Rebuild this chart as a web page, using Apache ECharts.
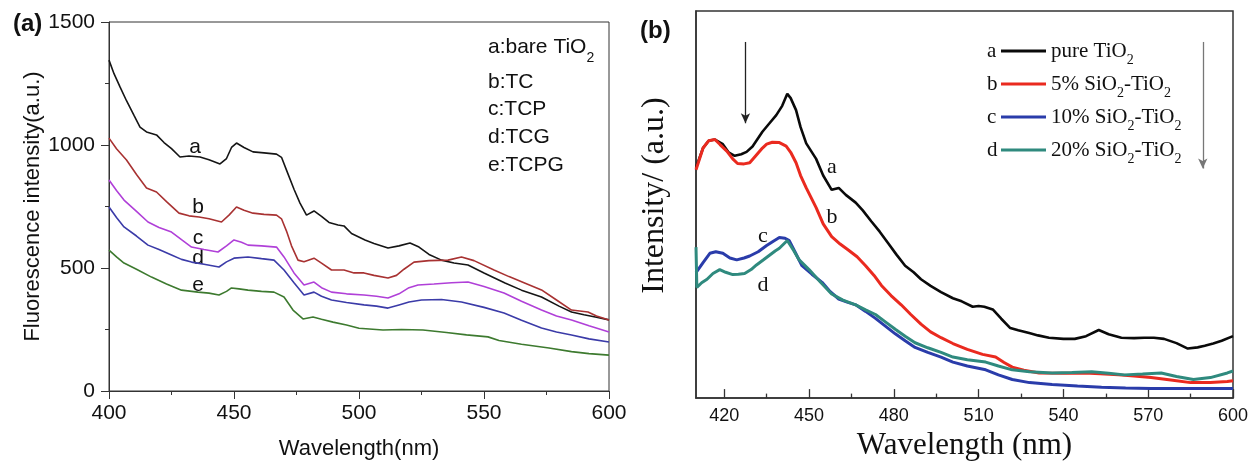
<!DOCTYPE html>
<html><head><meta charset="utf-8">
<script src="https://cdn.jsdelivr.net/npm/echarts@6/dist/echarts.min.js"></script>
<style>html,body{margin:0;padding:0;background:#fff}#c{width:1259px;height:466px}</style>
</head><body><div id="c"></div>
<script>
// ---------- Panel (a) data: [wavelength nm, fluorescence intensity a.u.] ----------
const aNames = ['a:bare TiO2', 'b:TC', 'c:TCP', 'd:TCG', 'e:TCPG'];
const aBare = [[400,1345],[402,1290],[404.4,1236],[407,1180],[410,1120],[412.4,1073],[415,1053],[419,1041],[422,1010],[425,985],[428.4,951],[432,955],[436.4,951],[440,940],[444.4,923],[447,945],[449,990],[451,1008],[454,990],[457.6,972],[462,968],[467,963],[469,950],[471,898],[474,820],[476.4,764],[479,715],[482,732],[485,710],[488,685],[491.6,675],[494,671],[497,640],[502.4,614],[506,600],[511.6,581],[516,590],[520.4,602],[524,585],[528,555],[533,532],[538,520],[543.6,512],[550,480],[558.4,439],[565,410],[573,382],[580,345],[585,321],[590,310],[595,300],[600,289]];
const aTC = [[400,1028],[403,985],[407,939],[411,880],[415,825],[419,809],[423,770],[428,723],[432,712],[436,707],[440,700],[445,687],[448,715],[451,748],[454,735],[457.6,723],[462,718],[467,715],[469,700],[471,650],[473,590],[475.6,532],[478,525],[482,540],[485,520],[489,492],[494,492],[498,480],[502,480],[506,470],[511.6,459],[515,470],[518,495],[522,524],[528,530],[535.6,532],[541,545],[546,530],[554,492],[560,465],[566,440],[573,411],[579,370],[585,329],[591.6,321],[595,305],[600,289]];
const aTCP = [[400,858],[403,815],[406,776],[411,730],[415.6,687],[420,665],[425,646],[429,615],[433,585],[438,575],[443.6,565],[447,590],[450,614],[453,605],[455.6,593],[461,590],[467,585],[470,545],[474,480],[478,431],[482,443],[485,420],[489,402],[495,395],[502,390],[507,385],[511.6,378],[516,395],[520,420],[523.6,431],[530,435],[537,440],[543.6,443],[550,425],[558,398],[565,365],[573,329],[579,305],[585,289],[592,265],[600,240]];
const aTCG = [[400,748],[403,705],[406,667],[411,630],[415.6,593],[420,575],[425,553],[429,535],[433,524],[438,515],[444,504],[447,525],[450,540],[455.6,545],[461,538],[466,532],[470,492],[474,440],[478,390],[482,402],[485,385],[489,370],[495,360],[502,350],[507,345],[511.6,337],[516,350],[520,362],[525,370],[533,372],[541,362],[550,340],[558,317],[565,288],[573,256],[579,240],[585,228],[592,212],[600,199]];
const aTCPG = [[400,573],[403,545],[406,520],[411,495],[417,463],[423,435],[429,410],[435.6,402],[440,398],[444,390],[447,405],[449,419],[452,415],[455.6,410],[461,405],[466,402],[470,382],[473.6,329],[477.6,293],[481.6,301],[485,292],[489.6,280],[495,268],[500,255],[509.6,248],[517,250],[525.6,248],[535,238],[543,228],[551.6,220],[556,205],[565,190],[576,175],[585,160],[592,152],[600,146]];

// ---------- Panel (b) data: [wavelength nm, intensity a.u. (arbitrary 0-100)] ----------
const bNames = ['pure TiO2', '5% SiO2-TiO2', '10% SiO2-TiO2', '20% SiO2-TiO2'];
const bPure = [[410,59.5],[410.4,60],[412.5,64.6],[414.5,66.5],[416.7,66.8],[419.5,65.6],[421.5,63.5],[423.7,62.6],[426,63.0],[427.9,63.6],[430,65.0],[433.5,68.8],[436,71],[438.4,73.1],[440.5,75.5],[442.3,78.6],[443.5,77.5],[445.4,74.4],[447,70],[449,65.8],[452.5,61.8],[455,57.5],[458,53.8],[460.5,54.3],[463,52.5],[466.5,50.5],[469,48.5],[472,45.7],[475,43],[478,40],[481,37],[484,34.2],[487,32.5],[489.6,30.7],[493,29],[496.7,27.4],[500.9,25.8],[504,25],[507.9,23.6],[510,23.8],[512,23.6],[515,22.9],[518,20.5],[521.2,18.1],[524,17.5],[527.9,16.8],[531,16.2],[534.9,15.6],[540,15.3],[544,15.3],[548,16.0],[552.5,17.6],[556,16.5],[560.5,15.6],[565,15.5],[568.6,15.6],[572,15.6],[575.6,15.3],[580,14.2],[584,12.8],[587.5,13.1],[590,13.5],[593,14.1],[596,14.8],[600,16]];
const b5 = [[410,59],[410.4,59.5],[412.5,64.6],[414.5,66.5],[416.7,66.8],[418.5,65.5],[420.9,63.8],[423,61.8],[424.7,60.6],[427,60.5],[429,60.8],[431,62.5],[433.5,64.6],[435,65.6],[437,66.1],[439.5,66.0],[441.9,65.1],[443.5,63.5],[445.4,60.8],[447,57.5],[449,54.3],[452.5,49.2],[455,45],[458,41.7],[461,39.8],[464,38.2],[467,36.5],[470,34.2],[473,31.7],[475.6,29.1],[479,26.5],[482.6,24.1],[486,21.6],[489.6,19.1],[493,17.1],[496.7,15.6],[500.9,14.1],[506,12.6],[511.4,11.3],[516,10.6],[519,9.2],[521.9,8.0],[526,7.2],[531.4,6.5],[540,6.4],[547.5,6.5],[553,6.3],[559.5,6.0],[565,5.7],[571,5.3],[578,4.7],[585,4.0],[592,4.0],[598,4.3],[600,4.5]];
const b10 = [[410,32.4],[412.5,35],[414.9,37.4],[417,37.8],[419.5,37.4],[422,36.2],[424.4,35.7],[427,36.2],[429,36.7],[432,37.8],[435,39.4],[437.5,40.6],[439.5,41.5],[441.5,41.3],[443,40.7],[445,37.8],[447.5,34.2],[451,32],[454.6,29.9],[457.5,27.5],[460.5,25.6],[463.5,24.8],[466.5,24.1],[470,22.4],[473.5,20.6],[477,18.6],[480.5,16.6],[484,14.8],[487.5,13.1],[492,11.8],[496.7,10.6],[500.9,9.3],[506,8.3],[512.5,7.3],[517,6.0],[521.9,4.8],[528,4.0],[536,3.5],[545,3.1],[553.5,2.8],[562,2.6],[571,2.5],[585,2.5],[600,2.5]];
const b20 = [[410,39],[410.3,28.6],[412,29.8],[413.9,30.7],[416,32.2],[418.4,33.2],[420.5,32.5],[423,31.9],[425,32.0],[427.2,32.2],[429.5,33.2],[431.4,34.4],[434,35.8],[436,36.9],[438,38],[439.5,38.7],[442.3,40.7],[444.5,38.2],[446.5,35.7],[450,33.2],[454,30],[458,26.9],[462,25.3],[466.5,24.1],[470,22.8],[473.5,21.6],[477,19.7],[480.5,17.8],[484,16],[487.5,14.3],[492,13],[496.7,11.8],[500.9,10.6],[506,9.9],[512.5,9.3],[517,8.3],[521.9,7.3],[528,6.8],[536,6.5],[543,6.6],[550,6.8],[556,6.4],[561.6,6.0],[568,6.2],[574.6,6.5],[580,5.6],[586,4.8],[592,5.3],[598,6.5],[600,7.0]];
const bXLabels = [420, 450, 480, 510, 540, 570, 600];
const bXMinor = [435, 465, 495, 525, 555, 585];
// arrows (data coords): [x, yStart, yEnd]
const bArrowLeft = [427.5, 92, 71];
const bArrowRight = [589.3, 92, 59.3];

const SANS = '"Liberation Sans", Arial, Helvetica, sans-serif';
const SERIF = '"Liberation Serif", "Times New Roman", Times, serif';
const AXC = '#333';

function subRich(name) {
  const parts = name.split('O2');
  let s = '';
  parts.forEach((p, i) => {
    if (i < parts.length - 1) { s += '{n|' + p + 'O}{s|2}'; }
    else if (p.length) { s += '{n|' + p + '}'; }
  });
  return s;
}

const chart = echarts.init(document.getElementById('c'), null, {renderer: 'canvas'});

const aColors = ['#151515', '#a83232', '#b040d8', '#3b3ba8', '#3d7a2f'];
const aData = [aBare, aTC, aTCP, aTCG, aTCPG];
const bColors = ['#0a0a0a', '#ea2a1f', '#2a3caa', '#2f8a7e'];
const bData = [bPure, b5, b10, b20];

const series = [];
aData.forEach((d, i) => series.push({
  name: aNames[i], type: 'line', xAxisIndex: 0, yAxisIndex: 0, data: d,
  symbol: 'none', showSymbol: false, color: aColors[i],
  lineStyle: {color: aColors[i], width: 1.6}, silent: true
}));
bData.forEach((d, i) => {
  const s = {
    name: bNames[i], type: 'line', xAxisIndex: 1, yAxisIndex: 1, data: d,
    symbol: 'none', showSymbol: false, color: bColors[i],
    itemStyle: {color: bColors[i]},
    lineStyle: {color: bColors[i], width: i === 0 ? 2.6 : 3}, silent: true
  };
  if (i === 0) {
    s.markLine = {
      silent: true, symbol: ['none', 'arrow'], symbolSize: [7, 10], label: {show: false},
      data: [
        [{coord: [bArrowLeft[0], bArrowLeft[1]], lineStyle: {color: '#222', width: 1.3, type: 'solid'}},
         {coord: [bArrowLeft[0], bArrowLeft[2]]}],
        [{coord: [bArrowRight[0], bArrowRight[1]], lineStyle: {color: '#777', width: 1.3, type: 'solid'}},
         {coord: [bArrowRight[0], bArrowRight[2]]}]
      ]
    };
  }
  series.push(s);
});

function txt(x, y, text, size, family, extra) {
  return {
    type: 'text', x: x, y: y, silent: true,
    style: Object.assign({text: text, fontSize: size, fontFamily: family, fill: '#111',
      align: 'left', verticalAlign: 'middle'}, extra || {})
  };
}

const option = {
  animation: false,
  backgroundColor: '#fff',
  grid: [
    {left: 109, top: 22, width: 500, height: 369, show: true, borderColor: AXC, borderWidth: 1, backgroundColor: 'transparent'},
    {left: 696, top: 11, width: 537, height: 398, show: true, borderColor: AXC, borderWidth: 1.5, backgroundColor: 'transparent'}
  ],
  xAxis: [
    {gridIndex: 0, type: 'value', min: 400, max: 600, interval: 50,
     axisLine: {show: true, lineStyle: {color: AXC, width: 1}},
     axisTick: {show: true, inside: false, length: 8, lineStyle: {color: AXC}},
     minorTick: {show: true, splitNumber: 2, length: 4, lineStyle: {color: AXC}},
     splitLine: {show: false}, minorSplitLine: {show: false},
     axisLabel: {fontSize: 21, color: '#111', margin: 12, fontFamily: SANS, formatter: v => String(v)},
     name: 'Wavelength(nm)', nameLocation: 'middle', nameGap: 47,
     nameTextStyle: {fontSize: 22, color: '#111', fontFamily: SANS}},
    {gridIndex: 1, type: 'value', min: 410, max: 600, position: 'bottom',
     axisLine: {show: true, lineStyle: {color: AXC, width: 1.5}},
     axisTick: {show: true, inside: true, length: 9, customValues: bXLabels, lineStyle: {color: AXC, width: 1.3}},
     splitLine: {show: false},
     axisLabel: {customValues: bXLabels, fontSize: 18, color: '#111', margin: 9, fontFamily: SANS, formatter: v => String(v)},
     name: 'Wavelength (nm)', nameLocation: 'middle', nameGap: 20,
     nameTextStyle: {fontSize: 31, color: '#111', fontFamily: SERIF}},
    {gridIndex: 1, type: 'value', min: 410, max: 600, position: 'bottom',
     axisLine: {show: false},
     axisTick: {show: true, inside: true, length: 4.5, customValues: bXMinor, lineStyle: {color: AXC, width: 1.3}},
     splitLine: {show: false}, axisLabel: {show: false}}
  ],
  yAxis: [
    {gridIndex: 0, type: 'value', min: 0, max: 1500, interval: 500,
     axisLine: {show: true, lineStyle: {color: AXC, width: 1}},
     axisTick: {show: true, inside: false, length: 8, lineStyle: {color: AXC}},
     minorTick: {show: true, splitNumber: 2, length: 4, lineStyle: {color: AXC}},
     splitLine: {show: false}, minorSplitLine: {show: false},
     axisLabel: {fontSize: 21, color: '#111', margin: 14, fontFamily: SANS, formatter: v => String(v)},
     name: 'Fluorescence intensity(a.u.)', nameLocation: 'middle', nameGap: 64,
     nameTextStyle: {fontSize: 22, color: '#111', fontFamily: SANS}},
    {gridIndex: 1, type: 'value', min: 0, max: 100,
     axisLine: {show: true, lineStyle: {color: AXC, width: 1.5}},
     axisTick: {show: false}, axisLabel: {show: false}, splitLine: {show: false},
     name: 'Intensity/ (a.u.)', nameLocation: 'middle', nameGap: 25,
     nameTextStyle: {fontSize: 32, color: '#111', fontFamily: SERIF, padding: [0, 0, 0, 18]}}
  ],
  legend: [{
    data: bNames, orient: 'vertical', left: 1001, top: 35, padding: 0,
    itemWidth: 45, itemHeight: 3, itemGap: 1, icon: 'rect', selectedMode: false,
    formatter: function (name) { return subRich(name); },
    textStyle: {color: '#111', fontFamily: SERIF, fontSize: 21, lineHeight: 32,
      rich: {
        n: {fontFamily: SERIF, fontSize: 21, color: '#111', lineHeight: 32, verticalAlign: 'middle'},
        s: {fontFamily: SERIF, fontSize: 14, color: '#111', lineHeight: 14, verticalAlign: 'bottom'}
      }}
  }],
  graphic: [
    txt(13, 24, '(a)', 24, SANS, {fontWeight: 'bold'}),
    txt(640, 31, '(b)', 24, SANS, {fontWeight: 'bold'}),
    // panel (a) legend
    {type: 'text', x: 488, y: 47.5, silent: true,
     style: {text: '{n|a:bare TiO}{s|2}', align: 'left', verticalAlign: 'middle',
       rich: {n: {fontSize: 21, fontFamily: SANS, fill: '#111', lineHeight: 35, verticalAlign: 'middle'},
              s: {fontSize: 14, fontFamily: SANS, fill: '#111', lineHeight: 14, verticalAlign: 'bottom'}}}},
    txt(488, 82, 'b:TC', 21, SANS),
    txt(488, 109.5, 'c:TCP', 21, SANS),
    txt(488, 137.5, 'd:TCG', 21, SANS),
    txt(488, 165, 'e:TCPG', 21, SANS),
    // panel (a) curve labels
    txt(195, 147, 'a', 21, SANS, {align: 'center'}),
    txt(198, 207, 'b', 21, SANS, {align: 'center'}),
    txt(198, 238, 'c', 21, SANS, {align: 'center'}),
    txt(198, 258, 'd', 21, SANS, {align: 'center'}),
    txt(198, 285, 'e', 21, SANS, {align: 'center'}),
    // panel (b) legend letters
    txt(987, 51, 'a', 21, SERIF),
    txt(987, 84, 'b', 21, SERIF),
    txt(987, 117, 'c', 21, SERIF),
    txt(987, 150, 'd', 21, SERIF),
    // panel (b) curve labels
    txt(832, 167, 'a', 22, SERIF, {align: 'center'}),
    txt(832, 217, 'b', 22, SERIF, {align: 'center'}),
    txt(763, 236, 'c', 22, SERIF, {align: 'center'}),
    txt(763, 285, 'd', 22, SERIF, {align: 'center'})
  ],
  series: series
};
chart.setOption(option);
</script></body></html>
